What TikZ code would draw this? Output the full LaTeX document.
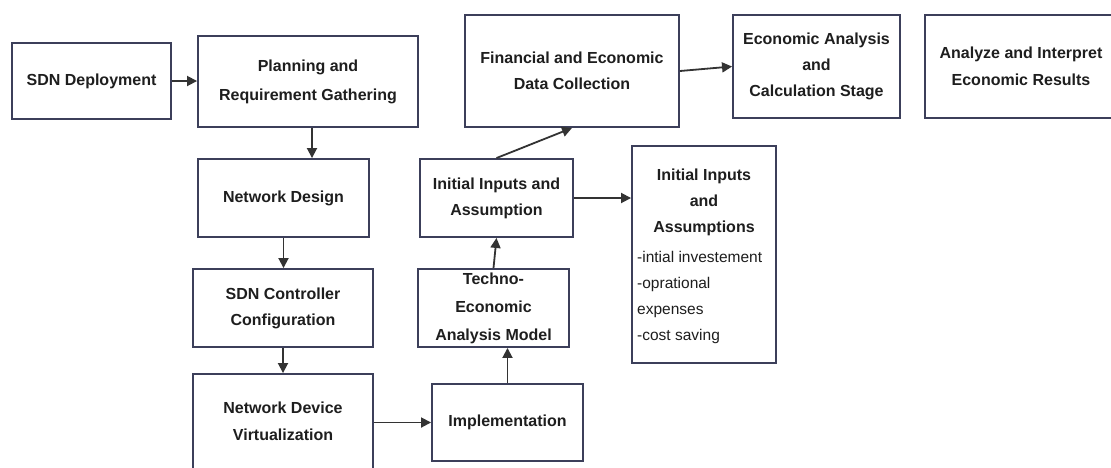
\documentclass[tikz,border=0pt]{standalone}
\usepackage{fontspec}
\setmainfont{Liberation Sans}
\usetikzlibrary{arrows.meta}
\definecolor{boxc}{HTML}{3C3F5A}
\definecolor{arrc}{HTML}{333333}
\definecolor{txtc}{HTML}{1E1E1E}
\begin{document}
\begin{tikzpicture}[x=1pt,y=-1pt,
  box/.style={draw=boxc, line width=1.9pt, inner sep=0pt, align=center, text=txtc,
    font=\fontsize{16}{26}\selectfont\bfseries},
  boxtext/.style={inner sep=0pt, align=center, text=txtc, font=\fontsize{16}{26}\selectfont\bfseries},
  arr/.style={draw=arrc, line width=1.8pt, -{Triangle[length=10pt,width=10pt]}},
  small/.style={text=txtc, font=\fontsize{15.5}{26}\selectfont, align=left, inner sep=0pt}]
\useasboundingbox (0,0) rectangle (1111,467);
\fill[white] (0,0) rectangle (1111,467);
\clip (0,0) rectangle (1111,467);

\node[box, minimum width=159pt, minimum height=76pt] (sdn) at (91.5,81) {SDN Deployment};
\node[box, minimum width=220pt, minimum height=91pt, font=\fontsize{16}{29}\selectfont\bfseries] (plan) at (308,81.5) {Planning and\\Requirement Gathering};
\node[box, minimum width=171pt, minimum height=78pt] (nd) at (283.5,198) {Network Design};
\node[box, minimum width=180pt, minimum height=78pt] (sdnc) at (283,308) {SDN Controller\\Configuration};
\node[box, minimum width=180pt, minimum height=126pt] (ndv) at (283,437) {};
\node[boxtext, font=\fontsize{16}{27}\selectfont\bfseries] (ndvt) at (283,421) {Network Device\\Virtualization};
\node[box, minimum width=151pt, minimum height=77pt] (impl) at (507.5,422.5) {Implementation};
\node[box, minimum width=151pt, minimum height=78pt, font=\fontsize{16}{28}\selectfont\bfseries] (tech) at (493.5,308) {Techno-\\Economic\\Analysis Model};
\node[box, minimum width=153pt, minimum height=78pt] (iia) at (496.5,198) {Initial Inputs and\\Assumption};
\node[box, minimum width=214pt, minimum height=112pt] (fin) at (572,71) {Financial and Economic\\Data Collection};
\node[box, minimum width=167pt, minimum height=103pt] (eca) at (816.5,66.5) {Economic Analysis\\and\\Calculation Stage};
\node[box, minimum width=205pt, minimum height=103pt] (ana) at (1027.5,66.5) {};
\node[boxtext, font=\fontsize{16}{27}\selectfont\bfseries] (anat) at (1021,66.5) {Analyze and Interpret\\Economic Results};
\node[box, minimum width=144pt, minimum height=217pt] (iib) at (704,254.5) {};
\node[boxtext] (iibt) at (704,202.5) {Initial Inputs\\and\\Assumptions};
\node[small, anchor=west] (iibl) at (637,297.5) {-intial investement\\-oprational\\expenses\\-cost saving};

\coordinate (p1) at (312,0);
\draw[arr] (sdn.east) -- (sdn.east -| plan.west);
\draw[arr] (p1 |- plan.south) -- (p1 |- nd.north);
\draw[arr] (nd.south) -- (nd.south |- sdnc.north);
\draw[arr] (sdnc.south) -- (sdnc.south |- ndv.north);
\draw[arr] (impl.west -| ndv.east) -- (impl.west);
\draw[arr] (impl.north) -- (impl.north |- tech.south);
\draw[arr] (tech.north) -- (iia.south);
\draw[arr] (iia.north) -- (fin.south);
\draw[arr] (fin.east) -- (eca.west);
\draw[arr] (iia.east) -- (iia.east -| iib.west);
\end{tikzpicture}
\end{document}
